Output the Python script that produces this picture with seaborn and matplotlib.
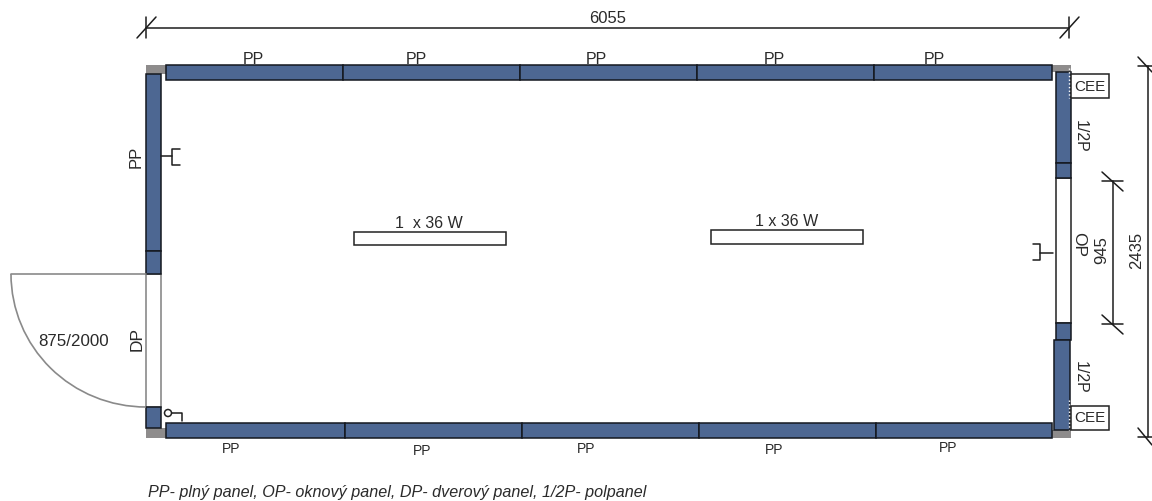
import pandas as pd
import seaborn as sns
import matplotlib.pyplot as plt
from matplotlib.patches import Arc, Circle

sns.set_theme(style="white")
plt.rcParams['font.family'] = ['Liberation Sans', 'DejaVu Sans']

BLUE = '#4d6792'
DARK = '#14181f'
GREY = '#8e8c8c'
DOOR = '#8a8a8a'

# panely: x, y, sirka, vyska
top_panels = [(166, 65, 177, 15), (343, 65, 177, 15), (520, 65, 177, 15), (697, 65, 177, 15), (874, 65, 178, 15)]
bottom_panels = [(166, 422.5, 179, 15), (345, 422.5, 177, 15), (522, 422.5, 177, 15), (699, 422.5, 177, 15), (876, 422.5, 176, 15)]
side_panels = [(146, 74, 15, 177), (146, 251, 15, 23), (146, 407, 15, 21),
               (1056, 72, 15, 91), (1056, 163, 15, 15), (1056, 323, 15, 17), (1054, 340, 16, 90)]
corners = [(146, 65, 20, 9), (146, 428, 20, 10), (1052, 65, 19, 7), (1052, 430, 19, 8)]
door_box = [(146, 274, 15, 133)]
window_box = [(1056, 178, 15, 145)]
cee_boxes = [(1071, 74, 38, 24), (1071, 406, 38, 24)]
lamps = [(354, 232, 152, 13), (711, 230, 152, 14)]

# kotovanie a kresba ciarami: id, x, y
line_ids = ['w', 'w', 'wl', 'wl', 'wls', 'wls', 'wr', 'wr', 'wrs', 'wrs',
            'h', 'h', 'ht', 'ht', 'hts', 'hts', 'hb', 'hb', 'hbs', 'hbs',
            'o', 'o', 'ot', 'ot', 'ots', 'ots', 'ob', 'ob', 'obs', 'obs',
            's1', 's1', 's2', 's2', 's2', 's2', 's3', 's3', 's4', 's4', 's4', 's4',
            'k', 'k', 'k']
line_x = [146, 1069, 146, 146, 137, 156, 1069, 1069, 1060, 1079,
          1148, 1148, 1138, 1152, 1138, 1152, 1138, 1152, 1138, 1152,
          1113, 1113, 1102, 1123, 1102, 1123, 1102, 1123, 1102, 1123,
          161, 172, 180, 172, 172, 180, 1053, 1040, 1033, 1040, 1040, 1033,
          172, 182, 182]
line_y = [28, 28, 17, 38, 38, 17, 17, 38, 38, 17,
          66, 437, 66, 66, 57, 72, 437, 437, 428, 445,
          181, 324, 181, 181, 172, 191, 324, 324, 315, 334,
          156, 156, 149, 149, 165, 165, 253, 253, 244, 244, 260, 260,
          413, 413, 421]
lines = pd.DataFrame({'id': line_ids, 'x': line_x, 'y': line_y})

# popisy: text, x, y, otocenie, velkost
labels = [('6055', 608, 18, 0, 12), ('PP', 253, 59, 0, 11.5), ('PP', 416, 59, 0, 11.5), ('PP', 596, 59, 0, 11.5),
          ('PP', 774, 59, 0, 11.5), ('PP', 934, 59, 0, 11.5),
          ('PP', 231, 449, 0, 10), ('PP', 422, 451, 0, 10), ('PP', 586, 449, 0, 10), ('PP', 774, 450, 0, 10), ('PP', 948, 448, 0, 10),
          ('PP', 136, 157, 90, 12), ('DP', 137, 339, 90, 12.5), ('875/2000', 74, 341, 0, 12.2),
          ('1/2P', 1080, 136, 270, 11.5), ('1/2P', 1080, 377, 270, 11.5), ('OP', 1079, 244, 270, 12.5),
          ('945', 1102, 250, 90, 12), ('2435', 1137, 250, 90, 12),
          ('CEE', 1090, 87, 0, 11), ('CEE', 1090, 418, 0, 11),
          ('1  x 36 W', 429, 224, 0, 11.5), ('1 x 36 W', 787, 222, 0, 11.5)]
caption = 'PP- plný panel, OP- oknový panel, DP- dverový panel, 1/2P- polpanel'

fig, ax = plt.subplots(figsize=(11.52, 5.01), dpi=100)
fig.subplots_adjust(left=0, right=1, top=1, bottom=0)


def draw_boxes(boxes, face, edge, lw):
    for x, y, w, h in boxes:
        ax.bar(x, h, width=w, bottom=y, align='edge', color=face, edgecolor=edge, linewidth=lw)


draw_boxes(corners, GREY, GREY, 0)
draw_boxes(door_box, 'white', DOOR, 1.2)
draw_boxes(window_box, 'white', '#333333', 1.2)
draw_boxes(top_panels + bottom_panels + side_panels, BLUE, DARK, 1.1)
draw_boxes(cee_boxes + lamps, 'white', '#222222', 1.1)

sns.lineplot(data=lines, x='x', y='y', units='id', estimator=None, sort=False,
             color='#1c1c1c', linewidth=1.1, ax=ax, legend=False)

# dvere
ax.plot([11, 146], [274, 274], color=DOOR, lw=1.2)
ax.add_patch(Arc((146, 274), 270, 266, theta1=90, theta2=180, color=DOOR, lw=1.2))
# vypinac
ax.add_patch(Circle((168, 413), 3.5, fill=False, ec='#222222', lw=1.1))
# biela bodkovana ciara pri CEE
ax.plot([1069, 1069], [68, 98], color='white', lw=1, ls=':')
ax.plot([1069, 1069], [400, 430], color='white', lw=1, ls=':')

for text, x, y, rot, size in labels:
    ax.text(x, y, text, rotation=rot, fontsize=size, color='#2a2a2a', ha='center', va='center')
ax.text(148, 492, caption, fontsize=11.65, style='italic', color='#2a2a2a', ha='left', va='center')

ax.set_xlim(0, 1152)
ax.set_ylim(501, 0)
ax.set_xlabel('')
ax.set_ylabel('')
ax.axis('off')

plt.savefig('out.png', dpi=100)
